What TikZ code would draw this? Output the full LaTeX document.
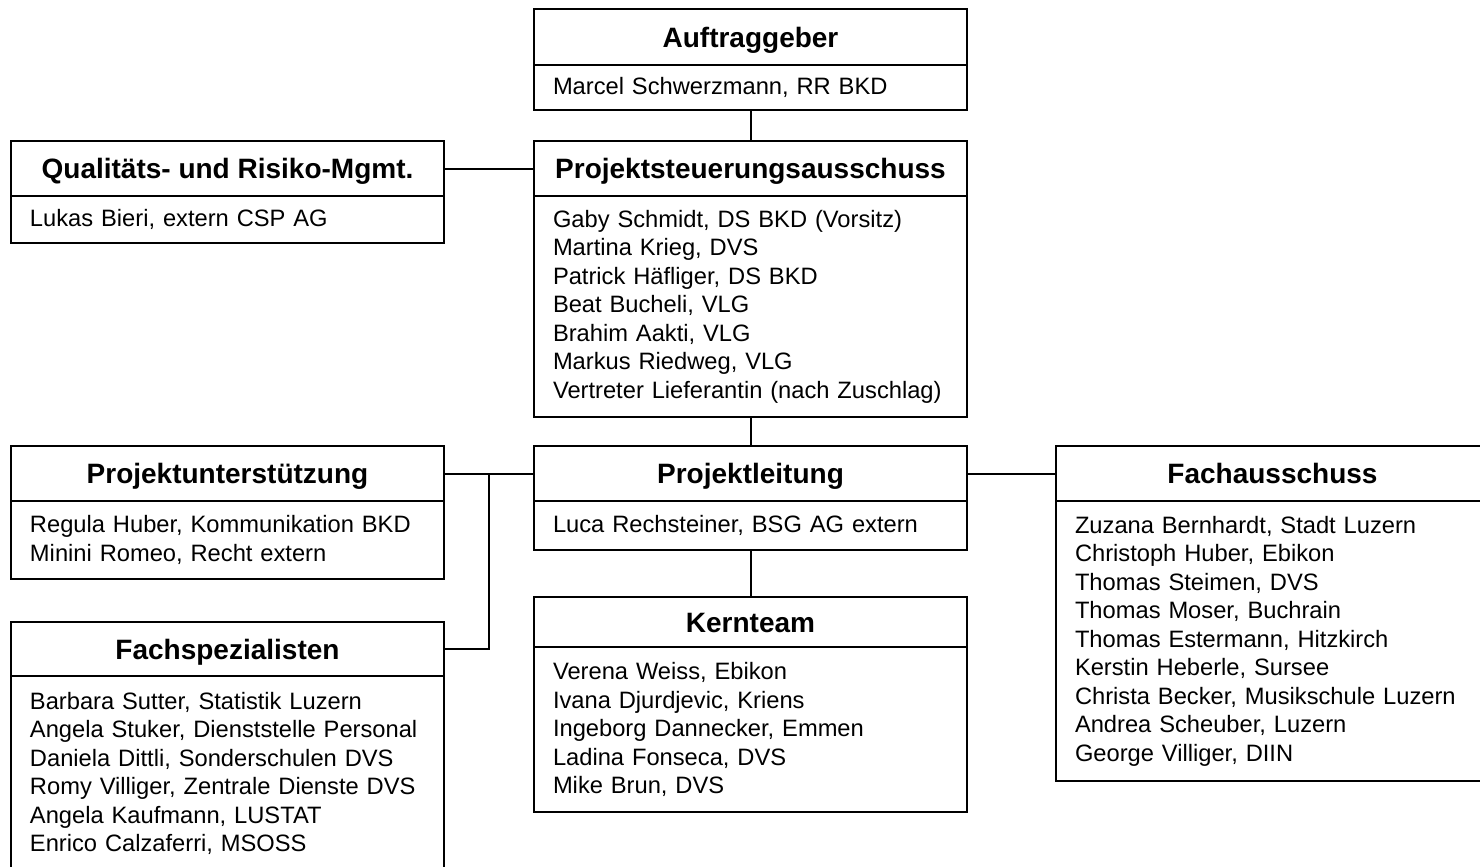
\documentclass[tikz,border=0pt]{standalone}
\usepackage{fontspec}
\setmainfont{Liberation Sans}
\usepackage{tikz}
\usetikzlibrary{calc,positioning}

\begin{document}
\begin{tikzpicture}[x=0.5pt,y=-0.5pt,line width=1pt,
kopf/.style={draw,outer sep=0pt,minimum width=216.5pt,minimum height=27.5pt,text height=10pt,text depth=0pt,font=\fontsize{14}{16}\selectfont\bfseries},
liste/.style={draw,outer sep=0pt,text width=197.5pt,inner xsep=9.5pt,inner ysep=0pt,align=left,anchor=north,font=\fontsize{11.85}{14.25}\selectfont}]
\clip (0,0) rectangle (1480,867);
\node[kopf,anchor=north west,minimum height=28pt] (ag) at (534,9) {Auftraggeber};
\node[liste,minimum height=22.5pt] (agL) at (ag.south) {Marcel Schwerzmann, RR BKD};
\node[kopf,anchor=north west] (psa) at (534,141) {Projektsteuerungsausschuss};
\node[liste,minimum height=110.5pt] (psaL) at (psa.south) {Gaby Schmidt, DS BKD (Vorsitz)\\Martina Krieg, DVS\\Patrick Häfliger, DS BKD\\Beat Bucheli, VLG\\Brahim Aakti, VLG\\Markus Riedweg, VLG\\Vertreter Lieferantin (nach Zuschlag)};
\node[kopf,anchor=north west] (q) at (11,141) {Qualitäts- und Risiko-Mgmt.};
\node[liste,minimum height=23.5pt] (qL) at (q.south) {Lukas Bieri, extern CSP AG};
\node[kopf,anchor=north west] (pl) at (534,446) {Projektleitung};
\node[liste,minimum height=24.5pt] (plL) at (pl.south) {Luca Rechsteiner, BSG AG extern};
\node[kopf,anchor=north west] (pu) at (11,446) {Projektunterstützung};
\node[liste,minimum height=39pt] (puL) at (pu.south) {Regula Huber, Kommunikation BKD\\Minini Romeo, Recht extern};
\node[kopf,anchor=north west,minimum height=27pt] (fs) at (11,622) {Fachspezialisten};
\node[liste,minimum height=97.5pt] (fsL) at (fs.south) {Barbara Sutter, Statistik Luzern\\Angela Stuker, Dienststelle Personal\\Daniela Dittli, Sonderschulen DVS\\Romy Villiger, Zentrale Dienste DVS\\Angela Kaufmann, LUSTAT\\Enrico Calzaferri, MSOSS};
\node[kopf,anchor=north west,minimum height=25pt] (kt) at (534,597) {Kernteam};
\node[liste,minimum height=82.5pt] (ktL) at (kt.south) {Verena Weiss, Ebikon\\Ivana Djurdjevic, Kriens\\Ingeborg Dannecker, Emmen\\Ladina Fonseca, DVS\\Mike Brun, DVS};
\node[kopf,anchor=north west] (fa) at (1056,446) {Fachausschuss};
\node[liste,minimum height=140pt] (faL) at (fa.south) {Zuzana Bernhardt, Stadt Luzern\\Christoph Huber, Ebikon\\Thomas Steimen, DVS\\Thomas Moser, Buchrain\\Thomas Estermann, Hitzkirch\\Kerstin Heberle, Sursee\\Christa Becker, Musikschule Luzern\\Andrea Scheuber, Luzern\\George Villiger, DIIN};
\coordinate (abzw) at ($(pu.east)!0.5!(pl.west)$);
\draw (agL.south) -- (psa.north);
\draw (q.east) -- (psa.west);
\draw (psaL.south) -- (pl.north);
\draw (pu.east) -- (pl.west);
\draw (abzw) |- (fs.east);
\draw (plL.south) -- (kt.north);
\draw (pl.east) -- (fa.west);
\end{tikzpicture}
\end{document}
